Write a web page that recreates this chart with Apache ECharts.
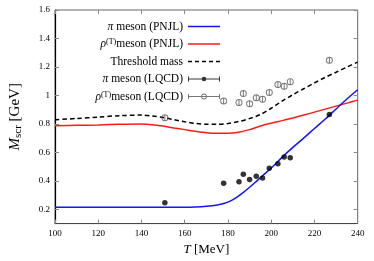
<!DOCTYPE html>
<html>
<head>
<meta charset="utf-8">
<script src="https://cdn.jsdelivr.net/npm/echarts@6/dist/echarts.min.js"></script>
<style>
html,body{margin:0;padding:0;background:#fff;}
#chart{width:374px;height:261px;}
</style>
</head>
<body>
<div id="chart"></div>
<script>
// ---- data ----
const xTicks = [100, 120, 140, 160, 180, 200, 220, 240];
const yTicks = [0.2, 0.4, 0.6, 0.8, 1.0, 1.2, 1.4, 1.6];

const piPnjlT = [100,110,120,130,140,150,160,165,170,175,178,181,184,187,190,193,196,200,205,210,215,220,225,230,235,240];
const piPnjlM = [0.215,0.215,0.215,0.215,0.215,0.215,0.215,0.217,0.222,0.231,0.241,0.258,0.285,0.318,0.355,0.395,0.436,0.490,0.565,0.635,0.700,0.768,0.835,0.905,0.975,1.040];

const rhoPnjlT = [100,110,120,130,140,145,150,155,160,165,170,175,180,185,190,195,200,205,210,215,220,225,230,235,240];
const rhoPnjlM = [0.787,0.790,0.793,0.797,0.799,0.795,0.785,0.772,0.760,0.748,0.738,0.734,0.734,0.742,0.760,0.785,0.805,0.823,0.842,0.862,0.883,0.904,0.925,0.946,0.967];

const thrT = [100,110,120,130,140,145,150,155,160,165,170,175,180,185,190,195,200,205,210,215,220,225,230,235,240];
const thrM = [0.830,0.838,0.848,0.858,0.862,0.856,0.845,0.830,0.815,0.803,0.797,0.797,0.803,0.817,0.838,0.866,0.910,0.960,1.005,1.047,1.088,1.127,1.163,1.199,1.234];

const lqcdT = [150.8,178.0,185.1,187.1,190.0,193.1,196.0,199.1,203.1,206.0,208.8,226.9];
const piLqcdM = [0.247,0.383,0.394,0.446,0.410,0.432,0.421,0.488,0.520,0.568,0.563,0.867];
const rhoLqcdM = [0.843,0.961,0.950,1.013,0.941,0.983,0.973,1.020,1.076,1.065,1.097,1.247];

const legendLabels = {
  piP: '{it|π} meson (PNJL)',
  rhoP: '{it|ρ}{sup|(T)}meson (PNJL)',
  thr: 'Threshold mass',
  piL: '{it|π} meson (LQCD)',
  rhoL: '{it|ρ}{sup|(T)}meson (LQCD)'
};

// ---- helpers ----
function zip(a, b) { return a.map((v, i) => [v, b[i]]); }
const SERIF = '"Liberation Serif", "DejaVu Serif", serif';

const ringSymbol = 'path://M0,-3.2A3.2,3.2 0 1,1 0,3.2A3.2,3.2 0 1,1 0,-3.2Z' +
  'M0,-2.3A2.3,2.3 0 1,0 0,2.3A2.3,2.3 0 1,0 0,-2.3Z' +
  'M-0.45,-3.2h0.9v6.4h-0.9Z';

const frame = 'M0,0h0.01v0.01h-0.01Z M32,10h-0.01v-0.01h0.01Z ';
const iconBase = frame + 'M0,2.5h1v5h-1Z M31,2.5h1v5h-1Z M1,4.5h30v1h-30Z ';
const piIcon = 'path://' + iconBase + 'M16,2.7A2.3,2.3 0 1,1 16,7.3A2.3,2.3 0 1,1 16,2.7Z';
const rhoIcon = 'path://' + iconBase +
  'M16,2.1A2.9,2.9 0 1,1 16,7.9A2.9,2.9 0 1,1 16,2.1Z' +
  'M16,3A2,2 0 1,0 16,7A2,2 0 1,0 16,3Z';
const solidIcon = 'path://' + frame + 'M0,4.25h32v1.5h-32Z';
const dashIcon = 'path://' + frame + 'M0,4.25h4v1.5h-4Z M7,4.25h4v1.5h-4Z M14,4.25h4v1.5h-4Z M21,4.25h4v1.5h-4Z M28,4.25h4v1.5h-4Z';

const chart = echarts.init(document.getElementById('chart'), null, {renderer: 'canvas'});

const tickStyle = {show: true, inside: true, length: 4, lineStyle: {color: '#888', width: 1}};

chart.setOption({
  animation: false,
  backgroundColor: '#fff',
  grid: {left: 54.3, right: 16.3, top: 10, bottom: 29.5, show: true, borderColor: '#666', borderWidth: 1},
  legend: {
    orient: 'vertical', align: 'right', right: 154, top: 20.5, padding: 0,
    itemWidth: 32, itemHeight: 10, itemGap: 5.5,
    data: [
      {name: 'piP', icon: solidIcon, itemStyle: {color: '#1414ff', borderWidth: 0}},
      {name: 'rhoP', icon: solidIcon, itemStyle: {color: '#ff1a1a', borderWidth: 0}},
      {name: 'thr', icon: dashIcon, itemStyle: {color: '#000', borderWidth: 0}},
      {name: 'piL', icon: piIcon, itemStyle: {color: '#000', borderWidth: 0}},
      {name: 'rhoL', icon: rhoIcon, itemStyle: {color: '#555', borderWidth: 0}}
    ],
    formatter: n => legendLabels[n],
    textStyle: {
      fontFamily: SERIF, fontSize: 11.5, color: '#000', lineHeight: 12,
      rich: {
        it: {fontFamily: SERIF, fontSize: 11.5, fontStyle: 'italic', color: '#000', lineHeight: 12},
        sup: {fontFamily: SERIF, fontSize: 8, color: '#000', verticalAlign: 'top', lineHeight: 12, padding: [0, 0, 4, 0]}
      }
    }
  },
  xAxis: [{
    type: 'value', min: 100, max: 240, interval: 20,
    name: '{it|T} [MeV]', nameLocation: 'middle', nameGap: 17.5,
    nameTextStyle: {fontFamily: SERIF, fontSize: 13, color: '#000',
      rich: {it: {fontFamily: SERIF, fontSize: 13, fontStyle: 'italic', color: '#000'}}},
    axisLine: {show: true, lineStyle: {color: '#444', width: 1}},
    axisTick: tickStyle,
    axisLabel: {fontFamily: SERIF, fontSize: 9, color: '#000', margin: 5.5},
    splitLine: {show: false}
  }, {
    type: 'value', min: 100, max: 240, interval: 20, position: 'top',
    axisLine: {show: false}, axisTick: tickStyle, axisLabel: {show: false}, splitLine: {show: false}
  }],
  yAxis: [{
    type: 'value', min: 0.1, max: 1.6,
    name: '{it|M}{sub|scr} [GeV]', nameLocation: 'middle', nameGap: 31,
    nameTextStyle: {fontFamily: SERIF, fontSize: 15, color: '#000',
      rich: {
        it: {fontFamily: SERIF, fontSize: 15, fontStyle: 'italic', color: '#000'},
        sub: {fontFamily: SERIF, fontSize: 11, color: '#000', padding: [6, 0, 0, 0]}
      }},
    axisLine: {show: true, lineStyle: {color: '#000', width: 1.2}},
    axisTick: Object.assign({}, tickStyle, {customValues: yTicks}),
    axisLabel: {fontFamily: SERIF, fontSize: 9, color: '#000', margin: 5, customValues: yTicks,
      formatter: v => String(Math.round(v * 10) / 10)},
    splitLine: {show: false}
  }, {
    type: 'value', min: 0.1, max: 1.6, position: 'right',
    axisLine: {show: false},
    axisTick: Object.assign({}, tickStyle, {customValues: yTicks}),
    axisLabel: {show: false, customValues: yTicks}, splitLine: {show: false}
  }],
  series: [
    {name: 'piP', type: 'line', data: zip(piPnjlT, piPnjlM), symbol: 'none', smooth: 0.3,
      lineStyle: {color: '#1414ff', width: 1.5}, itemStyle: {color: '#1414ff'}, z: 3},
    {name: 'rhoP', type: 'line', data: zip(rhoPnjlT, rhoPnjlM), symbol: 'none', smooth: 0.3,
      lineStyle: {color: '#ff1a1a', width: 1.5}, itemStyle: {color: '#ff1a1a'}, z: 2},
    {name: 'thr', type: 'line', data: zip(thrT, thrM), symbol: 'none', smooth: 0.3,
      lineStyle: {color: '#000', width: 1.5, type: [4.5, 3]}, itemStyle: {color: '#000'}, z: 2},
    {name: 'piL', type: 'scatter', data: zip(lqcdT, piLqcdM), symbol: 'circle', symbolSize: 5.5,
      itemStyle: {color: '#000'}, z: 4},
    {name: 'rhoL', type: 'scatter', data: zip(lqcdT, rhoLqcdM), symbol: ringSymbol, symbolSize: 7,
      itemStyle: {color: '#555'}, z: 4}
  ]
});
</script>
</body>
</html>
